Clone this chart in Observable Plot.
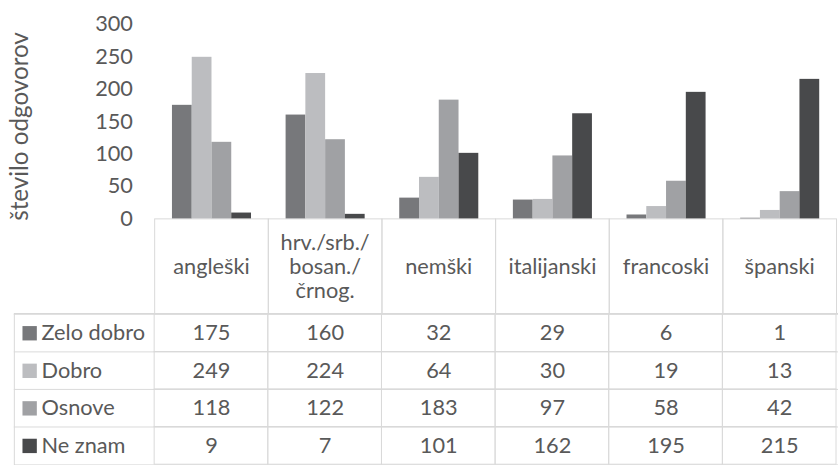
<!DOCTYPE html>
<html>
<head>
<meta charset="utf-8">
<script src="https://cdn.jsdelivr.net/npm/d3@7"></script>
<script src="https://cdn.jsdelivr.net/npm/@observablehq/plot@0.6"></script>
<style>
  html, body { margin: 0; padding: 0; background: #fff; }
  #chart { width: 838px; height: 465px; overflow: hidden; position: relative; }
  #chart svg { display: block; }
</style>
</head>
<body>
<div id="chart"></div>
<script>
// Language knowledge: number of responses per self-assessed level
const languages = ["angleški", "hrv./srb./\nbosan./\nčrnog.", "nemški", "italijanski", "francoski", "španski"];
const levels = ["Zelo dobro", "Dobro", "Osnove", "Ne znam"];
const zeloDobro = [175, 160, 32, 29, 6, 1];
const dobro = [249, 224, 64, 30, 19, 13];
const osnove = [118, 122, 183, 97, 58, 42];
const neZnam = [9, 7, 101, 162, 195, 215];
const yTicks = [0, 50, 100, 150, 200, 250, 300];
const yLabel = "število odgovorov";

const seriesValues = [zeloDobro, dobro, osnove, neZnam];
const levelColors = ["#77787b", "#bcbdc0", "#a0a1a4", "#48494b"];
const rows = levels.flatMap((level, s) =>
  languages.map((lang, i) => ({lang, level, value: seriesValues[s][i]}))
);

// layout
const W = 848;                 // plot area runs a little past the visible page
const mLeft = 154;
const mTop = 24;
const frameH = 197;            // value axis height
const headerH = 96;            // category header row of the table
const rowH = 38.3;             // data rows of the table
const gridColor = "#d9d9d9";
const textColor = "#595959";
const font = "Lato, 'Noto Sans', sans-serif";
const colW = (W - mLeft) / languages.length;

const color = {domain: levels, range: levelColors};

// Grouped columns + header row
const chartPlot = Plot.plot({
  width: W,
  height: mTop + frameH + headerH,
  marginTop: mTop,
  marginBottom: headerH,
  marginLeft: mLeft,
  marginRight: 0,
  style: {fontFamily: font, fontSize: "22px", color: textColor, background: "transparent", overflow: "visible"},
  fx: {domain: languages, padding: 0, axis: null, label: null},
  x: {domain: levels, paddingInner: 0, paddingOuter: 0.78, axis: null, label: null},
  y: {domain: [0, 300], ticks: yTicks, tickSize: 0, tickPadding: 22, label: null},
  color,
  marks: [
    Plot.frame({stroke: gridColor, insetTop: frameH, insetBottom: -headerH}),
    Plot.ruleX([languages[0]], {fx: d => d, y1: 0, y2: 300, dx: -colW / 2, stroke: gridColor}),
    Plot.barY(rows, {fx: "lang", x: "level", y: "value", fill: "level"}),
    Plot.text(languages, {
      fx: d => d, text: d => d, frameAnchor: "bottom", dy: headerH / 2,
      lineAnchor: "middle", lineHeight: 1.1, fill: textColor
    }),
    Plot.text([yLabel], {
      fx: () => languages[0], text: d => d, frameAnchor: "left", textAnchor: "middle",
      dx: -136, dy: 5, rotate: -90, fontSize: 24.5, fill: textColor
    })
  ]
});

// Data table with legend keys
const tablePlot = Plot.plot({
  width: W,
  height: rowH * levels.length,
  marginTop: 0,
  marginBottom: 0,
  marginLeft: mLeft,
  marginRight: 0,
  style: {fontFamily: font, fontSize: "22px", color: textColor, background: "transparent", overflow: "visible"},
  x: {domain: languages, padding: 0, axis: null},
  y: {domain: levels, padding: 0, axis: null},
  color,
  marks: [
    Plot.frame({stroke: gridColor, insetLeft: -(mLeft - 14)}),
    Plot.ruleY(levels, {y: d => d, dy: -rowH / 2, insetLeft: -(mLeft - 14), stroke: gridColor}),
    Plot.cell(rows, {x: "lang", y: "level", fill: "none", stroke: gridColor}),
    Plot.text(rows, {x: "lang", y: "level", text: d => String(d.value), fill: textColor}),
    Plot.dot(levels, {y: d => d, frameAnchor: "left", dx: -(mLeft - 29.5), symbol: "square", r: 8.2, fill: d => d, stroke: "none"}),
    Plot.text(levels, {y: d => d, frameAnchor: "left", dx: -(mLeft - 41.5), textAnchor: "start", text: d => d, fill: textColor})
  ]
});

const chart = document.getElementById("chart");
chart.append(chartPlot, tablePlot);
</script>
</body>
</html>
